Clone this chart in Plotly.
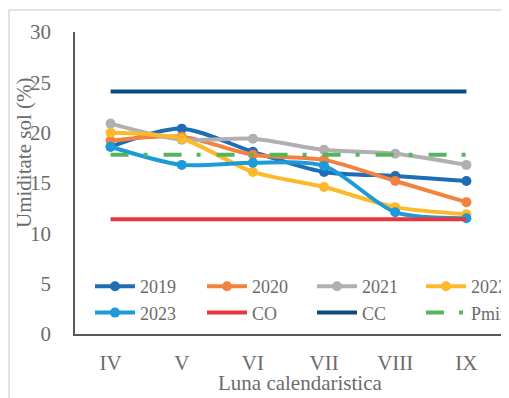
import plotly.graph_objects as go

months = ["IV", "V", "VI", "VII", "VIII", "IX"]
y2019 = [18.6, 20.4, 18.1, 16.1, 15.7, 15.2]
y2020 = [19.2, 19.6, 17.8, 17.3, 15.2, 13.1]
y2021 = [20.9, 19.3, 19.4, 18.3, 17.9, 16.8]
y2022 = [20.0, 19.4, 16.1, 14.6, 12.6, 11.9]
y2023 = [18.6, 16.8, 17.0, 16.7, 12.1, 11.5]
co = [11.4] * 6
cc = [24.1] * 6
pmin = [17.8] * 6

FONT = "Liberation Serif, Times New Roman, serif"
TXT = "#6b6b6b"

# page body has an 8px margin: figure is drawn 8px smaller and offset
PAGE_OFF = 8
FW, FH = 509 - PAGE_OFF, 398 - PAGE_OFF
PL, PT, PB = 75, 32, 334      # plot area edges in page pixels
AXIS_R = 502                  # right end of the x axis (page px)
GS_R = 509                    # right edge of the layout grid (page px)
GW, PH = GS_R - PL, PB - PT


def px(x):
    return (x - PL) / GW


def py(y):
    return (PB - y) / PH


series = [
    ("2019", y2019, "#1f6db4", "legend"),
    ("2020", y2020, "#f4823f", "legend2"),
    ("2021", y2021, "#b0b0b2", "legend3"),
    ("2022", y2022, "#fdb92a", "legend4"),
    ("2023", y2023, "#1b9bd9", "legend"),
]

fig = go.Figure()
for name, ys, col, lg in series:
    fig.add_trace(go.Scatter(
        x=months, y=ys, name=name, mode="lines+markers", legend=lg,
        line=dict(color=col, width=4, shape="spline", smoothing=0.8),
        marker=dict(color=col, size=10),
    ))
fig.add_trace(go.Scatter(x=months, y=co, name="CO", mode="lines", legend="legend2",
                         line=dict(color="#e8363d", width=4)))
fig.add_trace(go.Scatter(x=months, y=cc, name="CC", mode="lines", legend="legend3",
                         line=dict(color="#0f4a7e", width=4)))
fig.add_trace(go.Scatter(x=months, y=pmin, name="Pmin", mode="lines", legend="legend4",
                         line=dict(color="#55b55a", width=4, dash="18px,15px,4px,16px")))

TEXT_OFF = 50
col_text_px = [140, 252, 362, 471]
LEG_BOTTOM = 331


def leg(tx, bw=0):
    return dict(
        orientation="v", x=px(tx - TEXT_OFF - bw), xanchor="left",
        y=py(LEG_BOTTOM + bw), yanchor="bottom", traceorder="normal",
        font=dict(family=FONT, size=18, color=TXT),
        bgcolor="rgba(0,0,0,0)", itemwidth=40,
        borderwidth=bw, bordercolor="rgba(0,0,0,0)",
    )


fig.update_layout(
    width=FW, height=FH,
    margin=dict(l=PL - PAGE_OFF, r=509 - GS_R, t=PT - PAGE_OFF, b=398 - PB,
                autoexpand=False),
    paper_bgcolor="white", plot_bgcolor="white",
    font=dict(family=FONT, size=21, color=TXT),
    showlegend=True,
    legend=leg(col_text_px[0]),
    legend2=leg(col_text_px[1]),
    legend3=leg(col_text_px[2]),
    legend4=leg(col_text_px[3], bw=10),
    xaxis=dict(
        domain=[0, px(AXIS_R)],
        range=[-0.5, 5.5],
        showline=True, linecolor="#595959", linewidth=1.5, showgrid=False,
        ticks="outside", ticklen=9, tickcolor="rgba(0,0,0,0)",
        tickfont=dict(family=FONT, size=21, color=TXT), zeroline=False,
    ),
    yaxis=dict(
        range=[0, 30], dtick=5, showline=True, linecolor="#595959", linewidth=1.5,
        showgrid=False, zeroline=False,
        ticks="outside", ticklen=18, tickcolor="rgba(0,0,0,0)",
        tickfont=dict(family=FONT, size=21, color=TXT),
    ),
    annotations=[
        dict(text="Umiditate sol (%)", x=px(24), y=py(153),
             xref="paper", yref="paper", textangle=-90, showarrow=False,
             font=dict(family=FONT, size=21, color=TXT), xanchor="center", yanchor="middle"),
        dict(text="Luna calendaristica", x=px(300), y=py(383),
             xref="paper", yref="paper", showarrow=False,
             font=dict(family=FONT, size=21, color=TXT), xanchor="center", yanchor="middle"),
    ],
    shapes=[
        dict(type="rect", xref="paper", yref="paper",
             x0=px(9), x1=px(530), y0=py(420), y1=py(10),
             line=dict(color="#d9d9d9", width=1.5), layer="below"),
    ],
)

fig.write_html("out.html")
